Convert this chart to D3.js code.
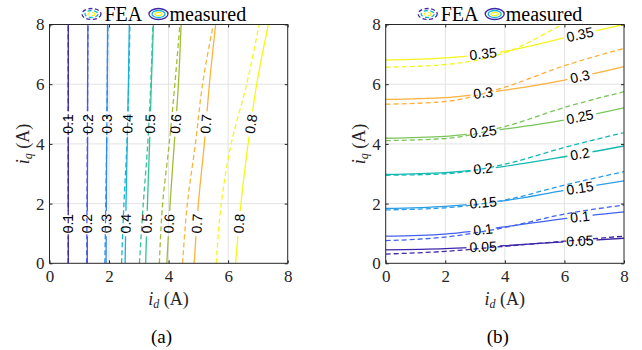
<!DOCTYPE html>
<html>
<head>
<meta charset="utf-8">
<script src="https://cdn.jsdelivr.net/npm/d3@7"></script>
<style>
  body { margin: 0; background: #fff; }
  svg { display: block; }
</style>
</head>
<body>
<div id="chart"></div>
<script>
// ---- data ----
const ticks = [0, 2, 4, 6, 8];

// (a): contours are id(iq), sampled at these iq values
const iqKnots = [0, 2, 4, 6, 8];
const levelsA = [0.1, 0.2, 0.3, 0.4, 0.5, 0.6, 0.7, 0.8];
const measuredA = [
  [0.63, 0.63, 0.63, 0.63, 0.63],
  [1.27, 1.27, 1.28, 1.28, 1.29],
  [1.90, 1.91, 1.92, 1.94, 1.95],
  [2.54, 2.57, 2.61, 2.65, 2.68],
  [3.23, 3.29, 3.36, 3.42, 3.49],
  [3.94, 4.05, 4.19, 4.33, 4.42],
  [4.86, 5.00, 5.20, 5.37, 5.58],
  [6.25, 6.43, 6.67, 6.96, 7.35]
];
const feaA = [
  [0.63, 0.63, 0.63, 0.63, 0.63],
  [1.25, 1.26, 1.27, 1.28, 1.29],
  [1.86, 1.89, 1.92, 1.94, 1.96],
  [2.42, 2.50, 2.60, 2.66, 2.70],
  [3.02, 3.15, 3.30, 3.40, 3.47],
  [3.69, 3.80, 4.02, 4.21, 4.38],
  [4.47, 4.63, 4.90, 5.14, 5.50],
  [5.60, 5.77, 6.10, 6.62, 7.04]
];
const labelIqA = [4.67, 1.33];

// (b): contours are iq(id), sampled at these id values
const idKnots = [0, 2, 4, 6, 8];
const levelsB = [0.05, 0.1, 0.15, 0.2, 0.25, 0.3, 0.35];
const measuredB = [
  [0.45, 0.49, 0.59, 0.72, 0.84],
  [0.91, 0.98, 1.22, 1.50, 1.72],
  [1.84, 1.91, 2.10, 2.44, 2.76],
  [2.98, 3.04, 3.25, 3.57, 3.93],
  [4.19, 4.25, 4.50, 4.80, 5.21],
  [5.49, 5.55, 5.80, 6.14, 6.59],
  [6.81, 6.88, 7.10, 7.55, 8.00]
];
const feaB = [
  [0.31, 0.40, 0.57, 0.74, 0.91],
  [0.76, 0.88, 1.20, 1.65, 1.95],
  [1.79, 1.86, 2.12, 2.62, 3.07],
  [2.95, 3.00, 3.32, 3.88, 4.38],
  [4.11, 4.18, 4.58, 5.22, 5.75],
  [5.33, 5.42, 5.90, 6.62, 7.20],
  [6.57, 6.66, 7.05, 8.03, 9.00]
];
const labelIdB = [3.27, 6.52];

const colorsA = ['#3e26a8', '#4457ec', '#2c8bf2', '#17b2d9', '#35c39a', '#a2bd36', '#fbb43a', '#f5f816'];
const colorsB = ['#3e26a8', '#4361ef', '#2a9de7', '#15b8b2', '#7ac55a', '#fcb03e', '#f4f51e'];

// ---- layout ----
const W = 642, H = 350;
const plotTop = 24.5, plotBottom = 263.3;
const serif = '"Liberation Serif", "Times New Roman", serif';
const sans = '"Liberation Sans", Arial, sans-serif';
const ink = '#262626';

const svg = d3.select('#chart').append('svg')
  .attr('width', W).attr('height', H)
  .attr('viewBox', [0, 0, W, H]);

const defs = svg.append('defs');

function drawPanel(p) {
  const x = d3.scaleLinear().domain([0, 8]).range([p.left, p.right]);
  const y = d3.scaleLinear().domain([0, 8]).range([plotBottom, plotTop]);
  const g = svg.append('g');

  defs.append('clipPath').attr('id', 'clip' + p.id)
    .append('rect')
    .attr('x', p.left).attr('y', plotTop)
    .attr('width', p.right - p.left).attr('height', plotBottom - plotTop);

  // grid
  g.append('g').selectAll('line').data(ticks.slice(1, -1)).join('line')
    .attr('x1', d => x(d)).attr('x2', d => x(d))
    .attr('y1', plotTop).attr('y2', plotBottom)
    .attr('stroke', '#e3e3e3').attr('stroke-width', 1);
  g.append('g').selectAll('line').data(ticks.slice(1, -1)).join('line')
    .attr('y1', d => y(d)).attr('y2', d => y(d))
    .attr('x1', p.left).attr('x2', p.right)
    .attr('stroke', '#e3e3e3').attr('stroke-width', 1);

  // lines
  let line, pointAt;
  if (p.vertical) {
    line = d3.line().x(d => x(d[1])).y(d => y(d[0])).curve(d3.curveMonotoneY);
    pointAt = (vals, t) => {
      const f = d3.scaleLinear().domain(p.knots).range(vals);
      return [x(f(t)), y(t)];
    };
  } else {
    line = d3.line().x(d => x(d[0])).y(d => y(d[1])).curve(d3.curveMonotoneX);
    pointAt = (vals, t) => {
      const f = d3.scaleLinear().domain(p.knots).range(vals);
      return [x(t), y(f(t))];
    };
  }
  const pts = vals => p.knots.map((k, i) => [k, vals[i]]);

  // label geometry (on measured curves)
  const labels = [];
  p.measured.forEach((vals, i) => {
    p.labelAt.forEach(t => {
      const a = pointAt(vals, t - 0.05), b = pointAt(vals, t + 0.05);
      let ang = Math.atan2(b[1] - a[1], b[0] - a[0]) * 180 / Math.PI;
      if (ang > 90) ang -= 180;
      if (ang <= -90) ang += 180;
      if (p.vertical && ang > 0) ang -= 180;
      const c = pointAt(vals, t);
      labels.push({ text: String(p.levels[i]), cx: c[0], cy: c[1], ang });
    });
  });

  const mask = defs.append('mask').attr('id', 'mask' + p.id)
    .attr('maskUnits', 'userSpaceOnUse')
    .attr('x', 0).attr('y', 0).attr('width', W).attr('height', H);
  mask.append('rect').attr('x', 0).attr('y', 0).attr('width', W).attr('height', H).attr('fill', '#fff');

  const lines = g.append('g').attr('clip-path', `url(#clip${p.id})`);
  lines.append('g').attr('mask', `url(#mask${p.id})`)
    .selectAll('path').data(p.measured).join('path')
    .attr('d', d => line(pts(d)))
    .attr('fill', 'none')
    .attr('stroke', (d, i) => p.colors[i])
    .attr('stroke-width', 1.3);
  lines.append('g')
    .selectAll('path').data(p.fea).join('path')
    .attr('d', d => line(pts(d)))
    .attr('fill', 'none')
    .attr('stroke', (d, i) => p.colors[i])
    .attr('stroke-width', 1.3)
    .attr('stroke-dasharray', '5,3');

  const lab = g.append('g').selectAll('text').data(labels).join('text')
    .attr('transform', d => `translate(${d.cx},${d.cy}) rotate(${d.ang})`)
    .attr('text-anchor', 'middle')
    .attr('dy', '0.35em')
    .attr('font-family', sans)
    .attr('font-size', 14)
    .attr('fill', '#000')
    .text(d => d.text);
  lab.each(function (d) {
    const w = this.getComputedTextLength() + 6;
    mask.append('rect')
      .attr('x', -w / 2).attr('y', -6).attr('width', w).attr('height', 12)
      .attr('transform', `translate(${d.cx},${d.cy}) rotate(${d.ang})`)
      .attr('fill', '#000');
  });

  // axes
  const styleAxis = sel => {
    sel.attr('font-family', serif).attr('font-size', 17);
    sel.select('.domain').remove();
    sel.selectAll('line').attr('stroke', ink);
    sel.selectAll('text').attr('font-family', serif).attr('font-size', 17).attr('fill', ink);
  };
  g.append('g').attr('transform', `translate(0,${plotBottom})`)
    .call(d3.axisBottom(x).tickValues(ticks).tickSizeInner(-3).tickSizeOuter(0).tickPadding(7))
    .call(styleAxis);
  g.append('g').attr('transform', `translate(${p.left},0)`)
    .call(d3.axisLeft(y).tickValues(ticks).tickSizeInner(-3).tickSizeOuter(0).tickPadding(5))
    .call(styleAxis);
  g.append('g').attr('transform', `translate(0,${plotTop})`)
    .call(d3.axisTop(x).tickValues(ticks).tickSizeInner(-3).tickSizeOuter(0).tickFormat(''))
    .call(styleAxis);
  g.append('g').attr('transform', `translate(${p.right},0)`)
    .call(d3.axisRight(y).tickValues(ticks).tickSizeInner(-3).tickSizeOuter(0).tickFormat(''))
    .call(styleAxis);

  g.append('rect')
    .attr('x', p.left).attr('y', plotTop)
    .attr('width', p.right - p.left).attr('height', plotBottom - plotTop)
    .attr('fill', 'none').attr('stroke', ink).attr('stroke-width', 1);

  // axis labels
  const mid = (p.left + p.right) / 2;
  const xl = g.append('text')
    .attr('x', mid).attr('y', 305)
    .attr('text-anchor', 'middle')
    .attr('font-family', serif).attr('font-size', 18).attr('fill', ink);
  xl.append('tspan').attr('font-style', 'italic').text('i');
  xl.append('tspan').attr('font-style', 'italic').attr('font-size', 12).attr('dy', 3).text('d');
  xl.append('tspan').attr('dy', -3).text('\u00a0(A)');

  const yl = g.append('text')
    .attr('transform', `translate(${p.left - 21},${(plotTop + plotBottom) / 2}) rotate(-90)`)
    .attr('text-anchor', 'middle')
    .attr('font-family', serif).attr('font-size', 18).attr('fill', ink);
  yl.append('tspan').attr('font-style', 'italic').text('i');
  yl.append('tspan').attr('font-style', 'italic').attr('font-size', 12).attr('dy', 3).text('q');
  yl.append('tspan').attr('dy', -3).text('\u00a0(A)');

  // caption
  g.append('text')
    .attr('x', mid - 7).attr('y', 343)
    .attr('text-anchor', 'middle')
    .attr('font-family', serif).attr('font-size', 19).attr('fill', '#000')
    .text(p.caption);

  // legend
  const lg = g.append('g').attr('transform', `translate(${p.left},14)`);
  const rings = [
    { rx: 9.5, ry: 5.5, c: '#3e26a8' },
    { rx: 6.5, ry: 3.5, c: '#17b2d9' },
    { rx: 3.5, ry: 1.6, c: '#f5f816' }
  ];
  const feaIcon = lg.append('g').attr('transform', 'translate(42,0)');
  feaIcon.selectAll('ellipse').data(rings).join('ellipse')
    .attr('rx', d => d.rx).attr('ry', d => d.ry)
    .attr('fill', 'none').attr('stroke', d => d.c).attr('stroke-width', 1.3)
    .attr('stroke-dasharray', '4,2.5');
  lg.append('text').attr('x', 55).attr('y', 6.5)
    .attr('font-family', serif).attr('font-size', 20).attr('fill', '#000')
    .text('FEA');
  const mIcon = lg.append('g').attr('transform', 'translate(109,0)');
  mIcon.selectAll('ellipse').data(rings).join('ellipse')
    .attr('rx', d => d.rx).attr('ry', d => d.ry)
    .attr('fill', 'none').attr('stroke', d => d.c).attr('stroke-width', 1.3);
  lg.append('text').attr('x', 120).attr('y', 6.5)
    .attr('font-family', serif).attr('font-size', 20).attr('fill', '#000')
    .text('measured');
}

drawPanel({
  id: 'a', left: 49.5, right: 287.7, vertical: true,
  knots: iqKnots, levels: levelsA, measured: measuredA, fea: feaA,
  colors: colorsA, labelAt: labelIqA, caption: '(a)'
});
drawPanel({
  id: 'b', left: 385.7, right: 624, vertical: false,
  knots: idKnots, levels: levelsB, measured: measuredB, fea: feaB,
  colors: colorsB, labelAt: labelIdB, caption: '(b)'
});
</script>
</body>
</html>
